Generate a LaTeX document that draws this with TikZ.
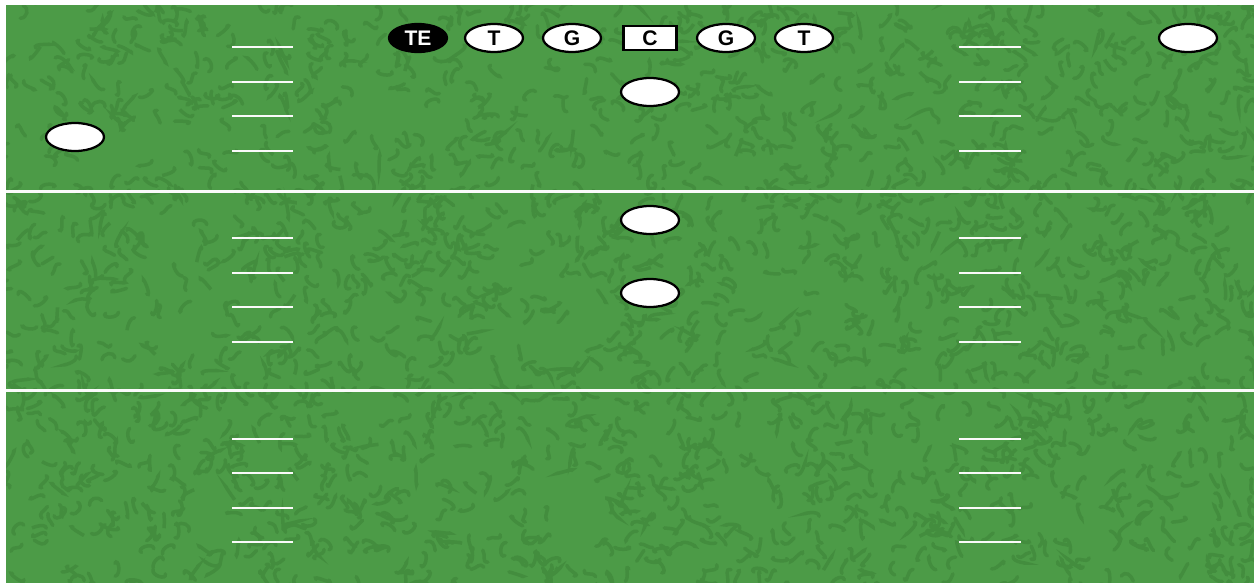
\documentclass[tikz,border=0pt]{standalone}
\usepackage{fontspec}
\setmainfont{Liberation Sans}
\usetikzlibrary{shapes.geometric}
\definecolor{fieldC}{RGB}{76,155,71}
\definecolor{turfC}{RGB}{67,141,62}
\definecolor{lineC}{RGB}{250,250,250}
\tikzset{
	player/.style={ellipse, draw=black, line width=0.045cm, fill=white,
		minimum width=1.16cm, minimum height=0.56cm, inner sep=0pt,
		font=\fontsize{12}{12}\selectfont\bfseries},
	center/.style={rectangle, draw=black, line width=0.045cm, fill=white,
		minimum width=1.06cm, minimum height=0.48cm, inner sep=0pt,
		font=\fontsize{12}{12}\selectfont\bfseries},
	tightend/.style={player, fill=black, text=white},
	yardline/.style={lineC, line width=0.06cm},
	hashmark/.style={lineC, line width=0.04cm},
	turf/.style={turfC, line width=0.07cm, line cap=round},
}

\begin{document}
\begin{tikzpicture}[x=0.02cm, y=-0.02cm]
		
		% =============== FIELD ===============
		\fill[white] (0,0) rectangle (1254,582);
		\useasboundingbox (0,0) rectangle (1254,582);
		\fill[fieldC] (6,5) rectangle (1260,590);
		\begin{scope}
			\clip (6,5) rectangle (1260,590);
			\pgfmathsetseed{42}
			\foreach \i in {1,...,2200}{
				\pgfmathsetmacro{\px}{6+1254*rnd}
				\pgfmathsetmacro{\py}{2+588*rnd}
				\pgfmathsetmacro{\pa}{360*rnd}
				\pgfmathsetmacro{\pb}{360*rnd}
				\pgfmathsetmacro{\pc}{360*rnd}
				\draw[turf] (\px,\py) .. controls +(\pa:7) and +(\pb:7) .. +(\pc:13);
			}
		\end{scope}
		
		% =============== YARD LINES AND HASH MARKS ===============
		\draw[yardline] (6,191) -- (1260,191);
		\draw[yardline] (6,390.5) -- (1260,390.5);
		\foreach \y in {47,81.5,116,150.5, 238,272.5,307,341.5, 439,473,507.5,542}{
			\draw[hashmark] (232,\y) -- (293,\y);
			\draw[hashmark] (959,\y) -- (1021,\y);
		}
		
		% =============== OFFENSIVE LINE ===============
		\node[tightend] (te) at (418,38) {TE};
		\node[player]   (lt) at (494,38) {T};
		\node[player]   (lg) at (572,38) {G};
		\node[center]   (c)  at (650,38) {C};
		\node[player]   (rg) at (726,38) {G};
		\node[player]   (rt) at (804,38) {T};
		
		% =============== BACKFIELD AND RECEIVERS ===============
		\node[player] (qb)    at (650,92)  {};
		\node[player] (wideL) at (75,137)  {};
		\node[player] (wideR) at (1188,38) {};
		\node[player] (fb)    at (650,220) {};
		\node[player] (hb)    at (650,293) {};
		
	\end{tikzpicture}
\end{document}
